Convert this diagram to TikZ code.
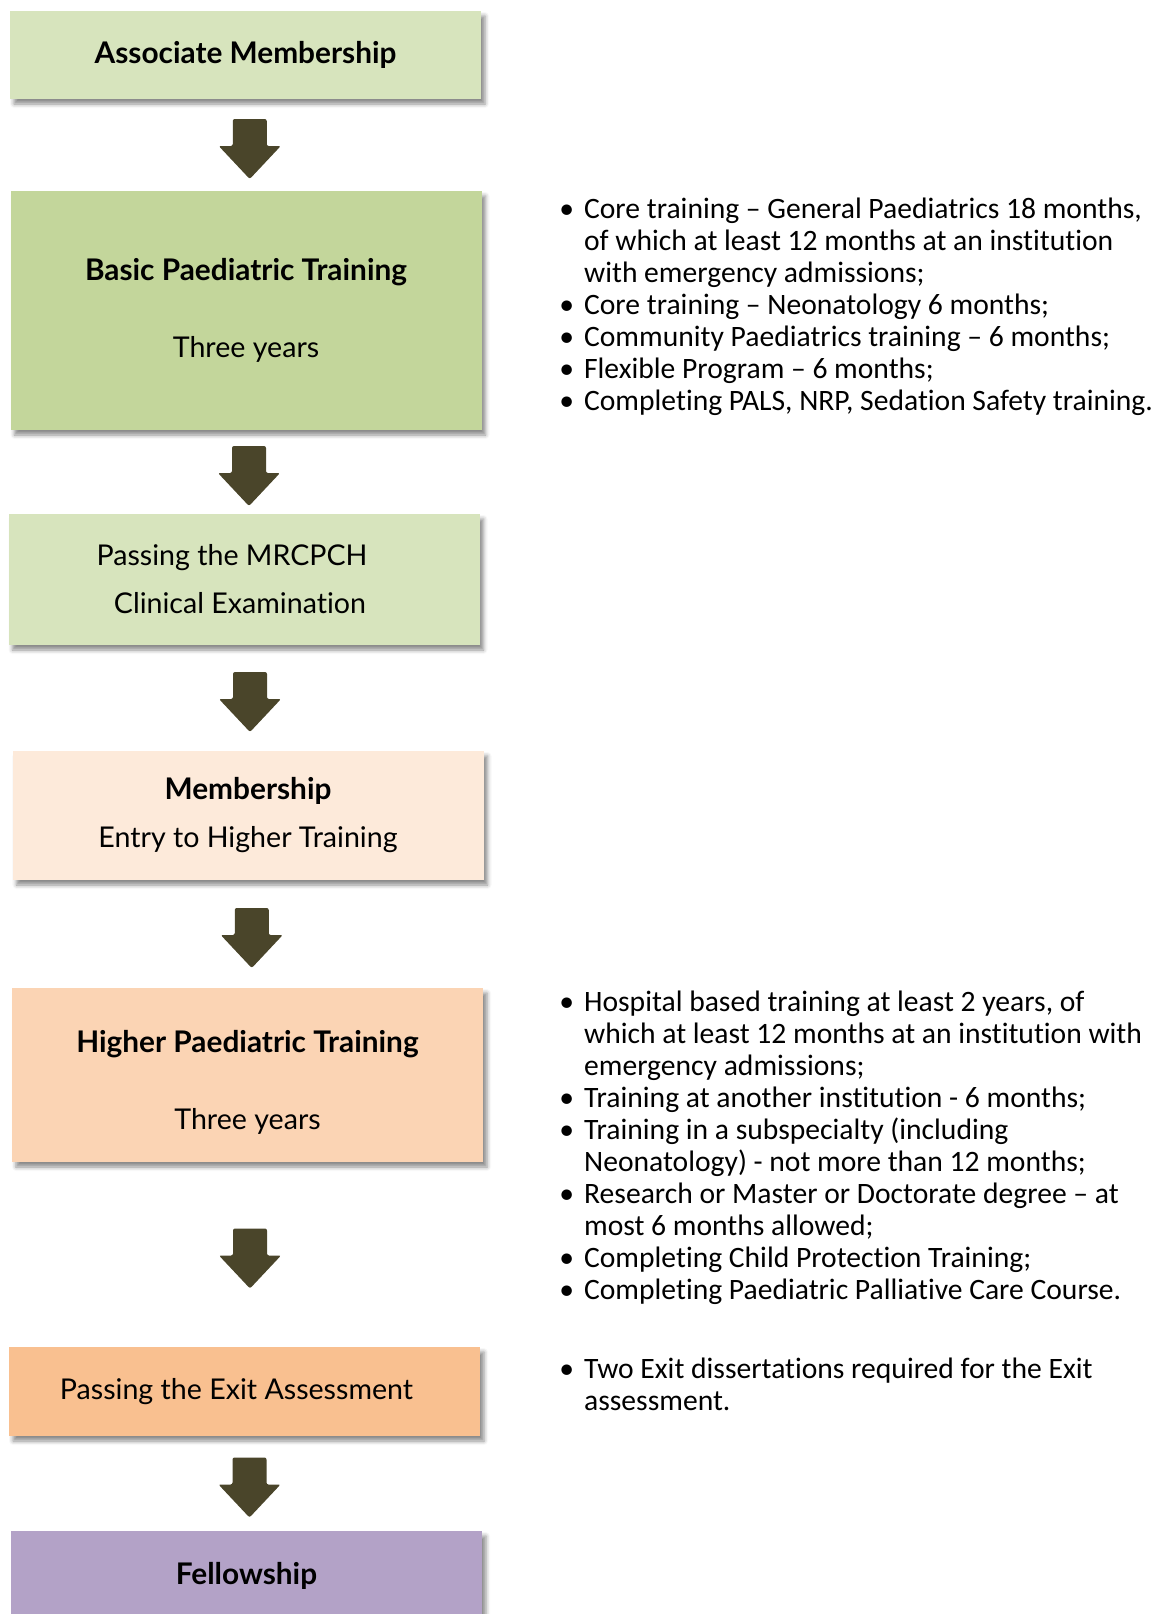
\documentclass[tikz,border=0pt]{standalone}
\usepackage{fontspec}
\setmainfont{Carlito}[RawFeature={-liga}]
\newfontfamily\boxfont{Lato}[RawFeature={-liga}]
\usetikzlibrary{positioning,calc,shadows.blur}

\definecolor{palegreen}{HTML}{D7E4BD}
\definecolor{midgreen}{HTML}{C3D69B}
\definecolor{palepeach}{HTML}{FDEADA}
\definecolor{midpeach}{HTML}{FBD4B4}
\definecolor{deeppeach}{HTML}{F9C090}
\definecolor{lilac}{HTML}{B3A2C7}
\definecolor{arrowolive}{HTML}{4A452A}

\newcommand{\stagetitle}[1]{{\fontsize{14.9}{24}\selectfont\bfseries #1}}

\tikzset{
  stage/.style={draw=none, minimum width=235.5pt, inner sep=0pt, align=center,
    font=\boxfont\fontsize{14.3}{24}\selectfont,
    blur shadow={shadow xshift=2pt, shadow yshift=-2.5pt, shadow blur radius=2pt, shadow opacity=45}},
  notes/.style={anchor=base west, inner sep=0pt, font=\fontsize{14.8}{16}\selectfont},
  blockarrow/.pic={
    \fill[arrowolive, rounded corners=1pt] (-17,-30) -- (17,-30) -- (17,-3) -- (31,-3)
      -- (0,30) -- (-31,-3) -- (-17,-3) -- cycle;
  }
}

\begin{document}
\begin{tikzpicture}[x=0.5pt, y=-0.5pt]
    \useasboundingbox (0,0) rectangle (1157,1614);

    % Stages on the left
    \node[stage, fill=palegreen, minimum height=44pt] (assoc) at (245.5,55) {\stagetitle{Associate Membership}};
    \node[stage, fill=midgreen, minimum height=119.5pt] (basic) at (246,310.5) {\stagetitle{Basic Paediatric Training}\\[14.5pt]Three years};
    \node[stage, fill=palegreen, minimum height=65.5pt] (mrcpch) at (244,579.5) {Passing the MRCPCH\hspace*{12pt}\\Clinical Examination\hspace*{4pt}};
    \node[stage, fill=palepeach, minimum height=64.5pt] (member) at (248,815.5) {\stagetitle{Membership}\\Entry to Higher Training};
    \node[stage, fill=midpeach, minimum height=87pt] (higher) at (247.5,1075) {\rule{0pt}{18pt}\stagetitle{Higher Paediatric Training}\\[14.5pt]Three years};
    \node[stage, fill=deeppeach, minimum height=44.5pt] (exit) at (244.5,1391.5) {Passing the Exit Assessment\hspace*{8pt}};
    \node[stage, fill=lilac, minimum height=44.5pt] (fellow) at (246.5,1575.5) {\stagetitle{Fellowship}};

    % Block arrows between the stages
    \foreach \from/\to in {assoc/basic, basic/mrcpch, mrcpch/member, member/higher, higher/exit, exit/fellow}
        \path ($(\from.south)!0.5!(\to.north) + (4,4)$) pic {blockarrow};

    % Requirements on the right
    \node[notes] (basicnotes) at (559,218) {\begin{tabular}[t]{@{}l@{\hspace{5pt}}l@{}}
        \textbullet & Core training – General Paediatrics 18 months,\\
        & of which at least 12 months at an institution\\
        & with emergency admissions;\\
        \textbullet & Core training – Neonatology 6 months;\\
        \textbullet & Community Paediatrics training – 6 months;\\
        \textbullet & Flexible Program – 6 months;\\
        \textbullet & Completing PALS, NRP, Sedation Safety training.
    \end{tabular}};

    \node[notes] (highernotes) at (559,1011) {\begin{tabular}[t]{@{}l@{\hspace{5pt}}l@{}}
        \textbullet & Hospital based training at least 2 years, of\\
        & which at least 12 months at an institution with\\
        & emergency admissions;\\
        \textbullet & Training at another institution - 6 months;\\
        \textbullet & Training in a subspecialty (including\\
        & Neonatology) - not more than 12 months;\\
        \textbullet & Research or Master or Doctorate degree – at\\
        & most 6 months allowed;\\
        \textbullet & Completing Child Protection Training;\\
        \textbullet & Completing Paediatric Palliative Care Course.
    \end{tabular}};

    \node[notes] (exitnotes) at (559,1378) {\begin{tabular}[t]{@{}l@{\hspace{5pt}}l@{}}
        \textbullet & Two Exit dissertations required for the Exit\\
        & assessment.
    \end{tabular}};
\end{tikzpicture}
\end{document}
